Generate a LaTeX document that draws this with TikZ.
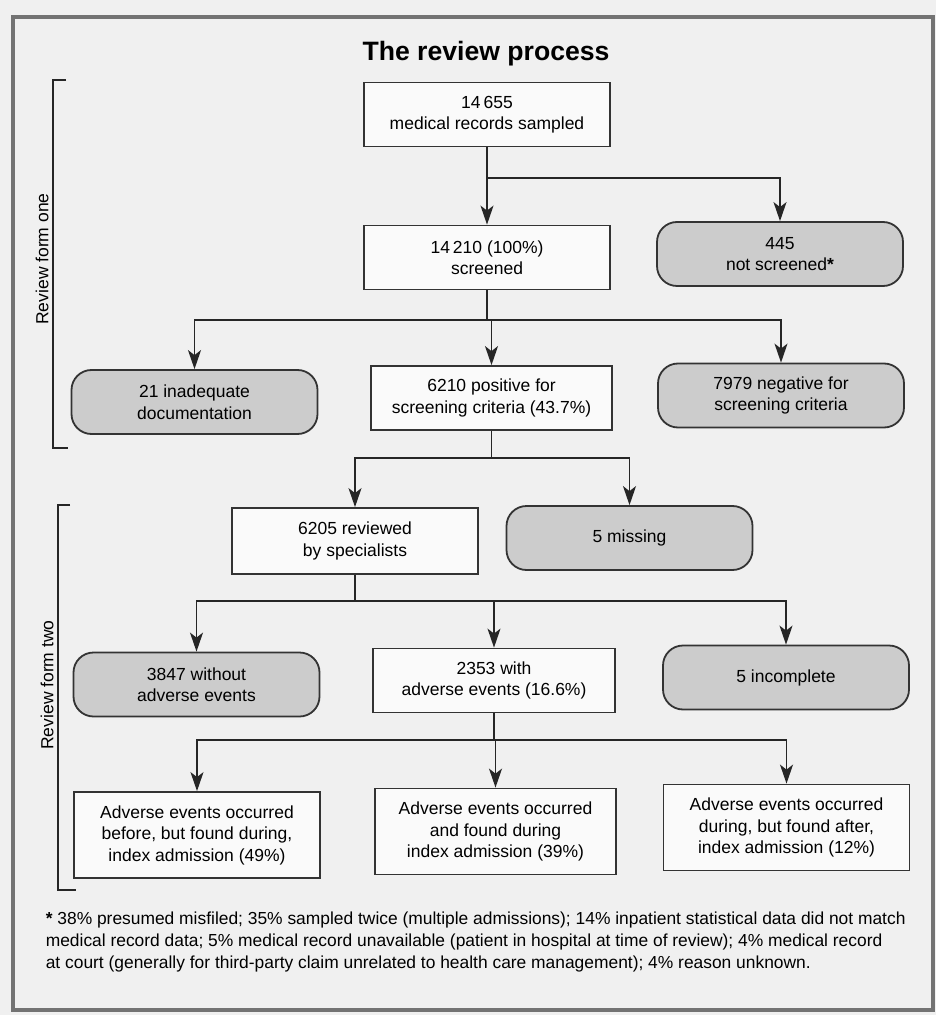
\documentclass[tikz,border=0pt]{standalone}
\usepackage{fontspec}
\setmainfont{Liberation Sans}
\usetikzlibrary{arrows.meta}
\tikzset{
every picture/.style={
line width=0.8pt
}}

\begin{document}
\begin{tikzpicture}[x=0.5pt, y=-0.5pt,
block/.style = {rectangle, draw=black!80, line width=0.9pt, fill=black!2, align=center, minimum width=123pt, minimum height=32pt, inner sep=2pt, font=\fontsize{8.75}{10.75}\selectfont},
outcome/.style = {block, rounded corners=10pt, fill=black!20},
link/.style = {black!85, line width=0.75pt},
arr/.style = {link, -{Stealth[length=9.5pt, width=6.5pt, inset=2.5pt]}},
formlabel/.style = {rotate=90, font=\fontsize{8.75}{10.75}\selectfont}]

\useasboundingbox (0,0) rectangle (936,1015);
\fill[black!6] (0,0) rectangle (936,1015);
\draw[black!55, line width=1.6pt] (13,17) rectangle (933,1010);

\node[font=\fontsize{13.3}{16}\selectfont\bfseries] (title) at (486,54) {The review process};

\node[block] (sampled) at (487,114.5) {14\,655\\medical records sampled};
\node[block] (screened) at (487,257.5) {14\,210 (100\%)\\screened};
\node[outcome] (notscr) at (780,254) {445\\not screened\textbf{*}};
\node[outcome] (inadeq) at (194.5,402) {21 inadequate\\documentation};
\node[block, minimum width=120.5pt] (positive) at (491.5,398) {6210 positive for\\screening criteria (43.7\%)};
\node[outcome] (negative) at (781,395.5) {7979 negative for\\screening criteria};
\node[block, minimum height=33pt] (reviewed) at (355,541) {6205 reviewed\\by specialists};
\node[outcome] (missing) at (629.5,538) {5 missing};
\node[outcome] (without) at (196.5,684.5) {3847 without\\adverse events};
\node[block, minimum width=121pt] (with) at (494,680.5) {2353 with\\adverse events (16.6\%)};
\node[outcome] (incompl) at (786,677.5) {5 incomplete};
\node[block, minimum height=43pt] (before) at (197,835) {Adverse events occurred\\before, but found during,\\index admission (49\%)};
\node[block, minimum width=120.5pt, minimum height=43pt] (during) at (495.5,831.5) {Adverse events occurred\\and found during\\index admission (39\%)};
\node[block, minimum height=43pt] (after) at (786.5,827.5) {Adverse events occurred\\during, but found after,\\index admission (12\%)};

\coordinate (s1) at (487,178);
\coordinate (s2) at (487,320);
\coordinate (s3) at (491.5,458);
\coordinate (s4) at (355,601);
\coordinate (s5) at (494,740);

\draw[arr] (sampled) -- (screened);
\draw[arr] (s1) -| (notscr.north);
\draw[link] (screened) -- (s2);
\draw[arr] (s2) -| (inadeq.north);
\draw[arr] (s2) -| (positive.north);
\draw[arr] (s2) -| (negative.north);
\draw[link] (positive) -- (s3);
\draw[arr] (s3) -| (reviewed.north);
\draw[arr] (s3) -| (missing.north);
\draw[link] (reviewed) -- (s4);
\draw[arr] (s4) -| (without.north);
\draw[arr] (s4) -| (with.north);
\draw[arr] (s4) -| (incompl.north);
\draw[link] (with) -- (s5);
\draw[arr] (s5) -| (before.north);
\draw[arr] (s5) -| (during.north);
\draw[arr] (s5) -| (after.north);

\draw[link] (66,80) -- (53,80) -- (53,448) -- (68,448);
\draw[link] (70,505) -- (58,505) -- (58,890) -- (76,890);
\node[formlabel] (formone) at (42,259) {Review form one};
\node[formlabel] (formtwo) at (47,685) {Review form two};

\node[anchor=north west, inner sep=0pt, align=left, font=\fontsize{8.7}{11}\selectfont] (note) at (45,911) {\textbf{*} 38\% presumed misfiled; 35\% sampled twice (multiple admissions); 14\% inpatient statistical data did not match\\medical record data; 5\% medical record unavailable (patient in hospital at time of review); 4\% medical record\\at court (generally for third-party claim unrelated to health care management); 4\% reason unknown.};
\end{tikzpicture}
\end{document}
